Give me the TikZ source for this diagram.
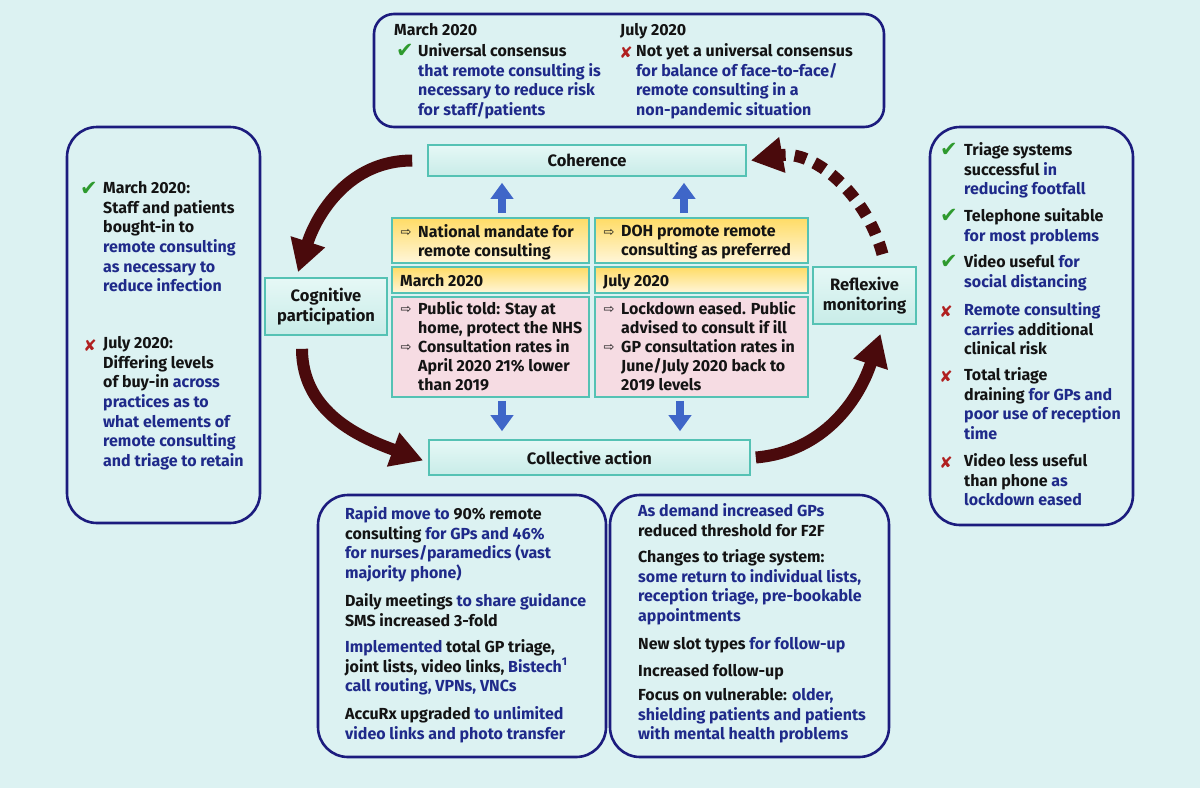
\documentclass[tikz,border=0pt]{standalone}
\usepackage{fontspec}
\setmainfont{Fira Sans}
\newfontfamily\symfont{DejaVu Sans}
\usetikzlibrary{arrows.meta}
\definecolor{bg}{HTML}{DCF2F2}
\definecolor{navy}{HTML}{1C1C7E}
\definecolor{navyt}{HTML}{1F2A8A}
\definecolor{ink}{HTML}{141414}
\definecolor{tealb}{HTML}{55C2B4}
\definecolor{boxtop}{HTML}{E6F8F6}
\definecolor{boxbot}{HTML}{C8ECE8}
\definecolor{ytop}{HTML}{FFDC66}
\definecolor{ybot}{HTML}{FFF6DA}
\definecolor{pinkf}{HTML}{F6DCE3}
\definecolor{maroon}{HTML}{4A0A0C}
\definecolor{barrow}{HTML}{3F66C8}
\definecolor{okgreen}{HTML}{2E9A2E}
\definecolor{nored}{HTML}{B02020}
\newcommand\bl[1]{{\color{navyt}#1}}
\begin{document}
\begin{tikzpicture}[x=1pt,y=1pt,
  frame/.style={draw=navy, line width=2.6pt, rounded corners=#1},
  frame/.default=24pt,
  tbox/.style={draw=tealb, line width=1.6pt, top color=boxtop, bottom color=boxbot, inner sep=0pt, font=\fontsize{16.5}{20}\selectfont\bfseries, text=ink, align=center},
  ybox/.style={draw=tealb, line width=1.6pt, top color=ytop, bottom color=ybot, inner sep=0pt},
  pbox/.style={draw=tealb, line width=1.6pt, fill=pinkf, inner sep=0pt},
  txt/.style={font=\fontsize{16}{19.6}\selectfont\bfseries, align=left, inner sep=0pt, anchor=north west, yshift=13.72pt, execute at begin node=\strut, text=ink},
  ctxt/.style={txt, font=\fontsize{16}{19}\selectfont\bfseries, yshift=-0.42pt},
  okmark/.style={font=\symfont\fontsize{21}{21}\selectfont, text=okgreen, inner sep=0pt},
  nomark/.style={font=\symfont\bfseries\fontsize{16}{16}\selectfont, text=nored, inner sep=0pt},
  rarr/.style={font=\symfont\fontsize{13}{13}\selectfont, text=ink, inner sep=0pt},
  marr/.style={draw=maroon, line width=12pt, -{Triangle[length=32pt,width=34pt]}},
  barr/.style={draw=barrow, line width=8pt, -{Triangle[length=16pt,width=22pt]}}
]
\fill[bg] (0,0) rectangle (1200,-788);
\useasboundingbox (0,0) rectangle (1200,-788);

% ---------- frames ----------
\draw[frame=20pt] (374,-14) rectangle (884,-127);
\draw[frame=30pt] (67,-127) rectangle (260,-523);
\draw[frame=30pt] (930,-127) rectangle (1133,-525);
\draw[frame=30pt] (318,-495) rectangle (606,-757);
\draw[frame=30pt] (610,-495) rectangle (889,-757);

% ---------- top box ----------
\node[txt] (tm) at (394,-35) {March 2020};
\node[txt] (tj) at (620,-35) {July 2020};
\node[okmark] (tok) at (405,-51) {✔};
\node[nomark] (tno) at (626,-53) {✘};
\node[txt] (tl) at (418,-57) {Universal consensus\\\bl{that remote consulting is}\\\bl{necessary to reduce risk}\\\bl{for staff/patients}};
\node[txt] (tr) at (636,-57) {Not yet a universal consensus\\\bl{for balance of face-to-face/}\\\bl{remote consulting in a}\\\bl{non-pandemic situation}};

% ---------- left box ----------
\node[okmark] (lok) at (89,-189) {✔};
\node[txt] (l1) at (103,-195) {March 2020:\\Staff and patients\\bought-in to\\\bl{remote consulting}\\\bl{as necessary to}\\\bl{reduce infection}};
\node[nomark] (lno) at (90,-346) {✘};
\node[txt] (l2) at (103,-350) {July 2020:\\Differing levels\\of buy-in \bl{across}\\\bl{practices as to}\\\bl{what elements of}\\\bl{remote consulting}\\\bl{and triage to retain}};

% ---------- right box ----------
\node[okmark] (rok1) at (949,-150) {✔};
\node[txt] (r1) at (964,-156) {Triage systems\\successful \bl{in}\\\bl{reducing footfall}};
\node[okmark] (rok2) at (949,-216) {✔};
\node[txt] (r2) at (964,-222) {Telephone suitable\\\bl{for most problems}};
\node[okmark] (rok3) at (949,-262) {✔};
\node[txt] (r3) at (964,-268) {Video useful \bl{for}\\\bl{social distancing}};
\node[nomark] (rno4) at (946,-312) {✘};
\node[txt] (r4) at (964,-316) {\bl{Remote consulting}\\\bl{carries} additional\\clinical risk};
\node[nomark] (rno5) at (946,-377) {✘};
\node[txt] (r5) at (964,-381) {Total triage\\draining \bl{for GPs and}\\\bl{poor use of reception}\\\bl{time}};
\node[nomark] (rno6) at (946,-463) {✘};
\node[txt] (r6) at (964,-467) {Video less useful\\than phone \bl{as}\\\bl{lockdown eased}};

% ---------- bottom-left box ----------
\node[txt] (b1) at (345,-520) {\bl{Rapid move to} 90\% remote\\consulting \bl{for GPs and 46\%}\\\bl{for nurses/paramedics (vast}\\\bl{majority phone)}};
\node[txt] (b2) at (345,-607) {Daily meetings \bl{to share guidance}\\SMS increased 3-fold};
\node[txt] (b3) at (345,-653) {\bl{Implemented} total GP triage,\\joint lists, video links, \bl{Bistech\textsuperscript{1}}\\\bl{call routing, VPNs, VNCs}};
\node[txt] (b4) at (345,-720) {AccuRx upgraded \bl{to unlimited}\\\bl{video links and photo transfer}};

% ---------- bottom-right box ----------
\node[txt] (c1) at (638,-517) {\bl{As demand increased GPs}\\reduced threshold for F2F};
\node[txt] (c2) at (638,-563) {Changes to triage system:\\\bl{some return to individual lists,}\\\bl{reception triage, pre-bookable}\\\bl{appointments}};
\node[txt] (c3) at (638,-649) {New slot types \bl{for follow-up}};
\node[txt] (c4) at (638,-676) {Increased follow-up};
\node[txt] (c5) at (638,-702) {Focus on vulnerable: \bl{older,}\\\bl{shielding patients and patients}\\\bl{with mental health problems}};

% ---------- process boxes ----------
\node[tbox, minimum width=318pt, minimum height=31pt] (coh) at (587,-160.5) {Coherence};
\node[tbox, minimum width=321pt, minimum height=35pt] (col) at (589.5,-457.5) {Collective action};
\node[tbox, minimum width=122pt, minimum height=57pt] (cog) at (326,-306.5) {Cognitive\\participation};
\node[tbox, minimum width=103pt, minimum height=57pt] (ref) at (864.5,-295.5) {Reflexive\\monitoring};

% ---------- centre columns ----------
\node[ybox, minimum width=197pt, minimum height=45pt] (yl) at (490.5,-240.5) {};
\node[ybox, minimum width=213pt, minimum height=45pt] (yr) at (701.5,-240.5) {};
\node[ybox, minimum width=197pt, minimum height=26pt] (ml) at (490.5,-280) {};
\node[ybox, minimum width=213pt, minimum height=26pt] (mr) at (701.5,-280) {};
\node[pbox, minimum width=197pt, minimum height=100pt] (pl) at (490.5,-347) {};
\node[pbox, minimum width=213pt, minimum height=100pt] (pr) at (701.5,-347) {};

\node[rarr] (ya1) at (406,-233) {⇨};
\node[ctxt] (yt1) at (418,-238) {National mandate for\\remote consulting};
\node[rarr] (ya2) at (609,-233) {⇨};
\node[ctxt] (yt2) at (621,-238) {DOH promote remote\\consulting as preferred};
\node[ctxt] (mt1) at (400,-286) {March 2020};
\node[ctxt] (mt2) at (603,-286) {July 2020};
\node[rarr] (pa1) at (406,-310) {⇨};
\node[rarr] (pa2) at (406,-348) {⇨};
\node[ctxt] (pt1) at (418,-315) {Public told: Stay at\\home, protect the NHS\\Consultation rates in\\April 2020 21\% lower\\than 2019};
\node[rarr] (pa3) at (609,-310) {⇨};
\node[rarr] (pa4) at (609,-348) {⇨};
\node[ctxt] (pt2) at (621,-315) {Lockdown eased. Public\\advised to consult if ill\\GP consultation rates in\\June/July 2020 back to\\2019 levels};

% ---------- blue arrows ----------
\draw[barr] ([xshift=11.5pt,yshift=4pt]yl.north) -- ([xshift=11.5pt,yshift=-6pt]yl.north |- coh.south);
\draw[barr] ([xshift=-17.5pt,yshift=4pt]yr.north) -- ([xshift=-17.5pt,yshift=-6pt]yr.north |- coh.south);
\draw[barr] ([xshift=11.5pt,yshift=-3pt]pl.south) -- ([xshift=11.5pt,yshift=8pt]pl.south |- col.north);
\draw[barr] ([xshift=-21.5pt,yshift=-3pt]pr.south) -- ([xshift=-21.5pt,yshift=8pt]pr.south |- col.north);

% ---------- maroon cycle arrows ----------
\draw[marr] ([xshift=-15pt]coh.west) to[out=180,in=72] ([xshift=-28pt,yshift=5pt]cog.north);
\draw[marr] ([xshift=-24pt,yshift=-13pt]cog.south) to[out=-90,in=160] ([xshift=-5pt,yshift=-3pt]col.west);
\draw[marr] ([xshift=5pt]col.east) to[out=5,in=-108] ([xshift=16pt,yshift=-9pt]ref.south);
\draw[marr, dash pattern=on 12pt off 9pt] ([xshift=18pt,yshift=12pt]ref.north) to[out=105,in=10] ([xshift=4pt]coh.east);
\end{tikzpicture}
\end{document}
